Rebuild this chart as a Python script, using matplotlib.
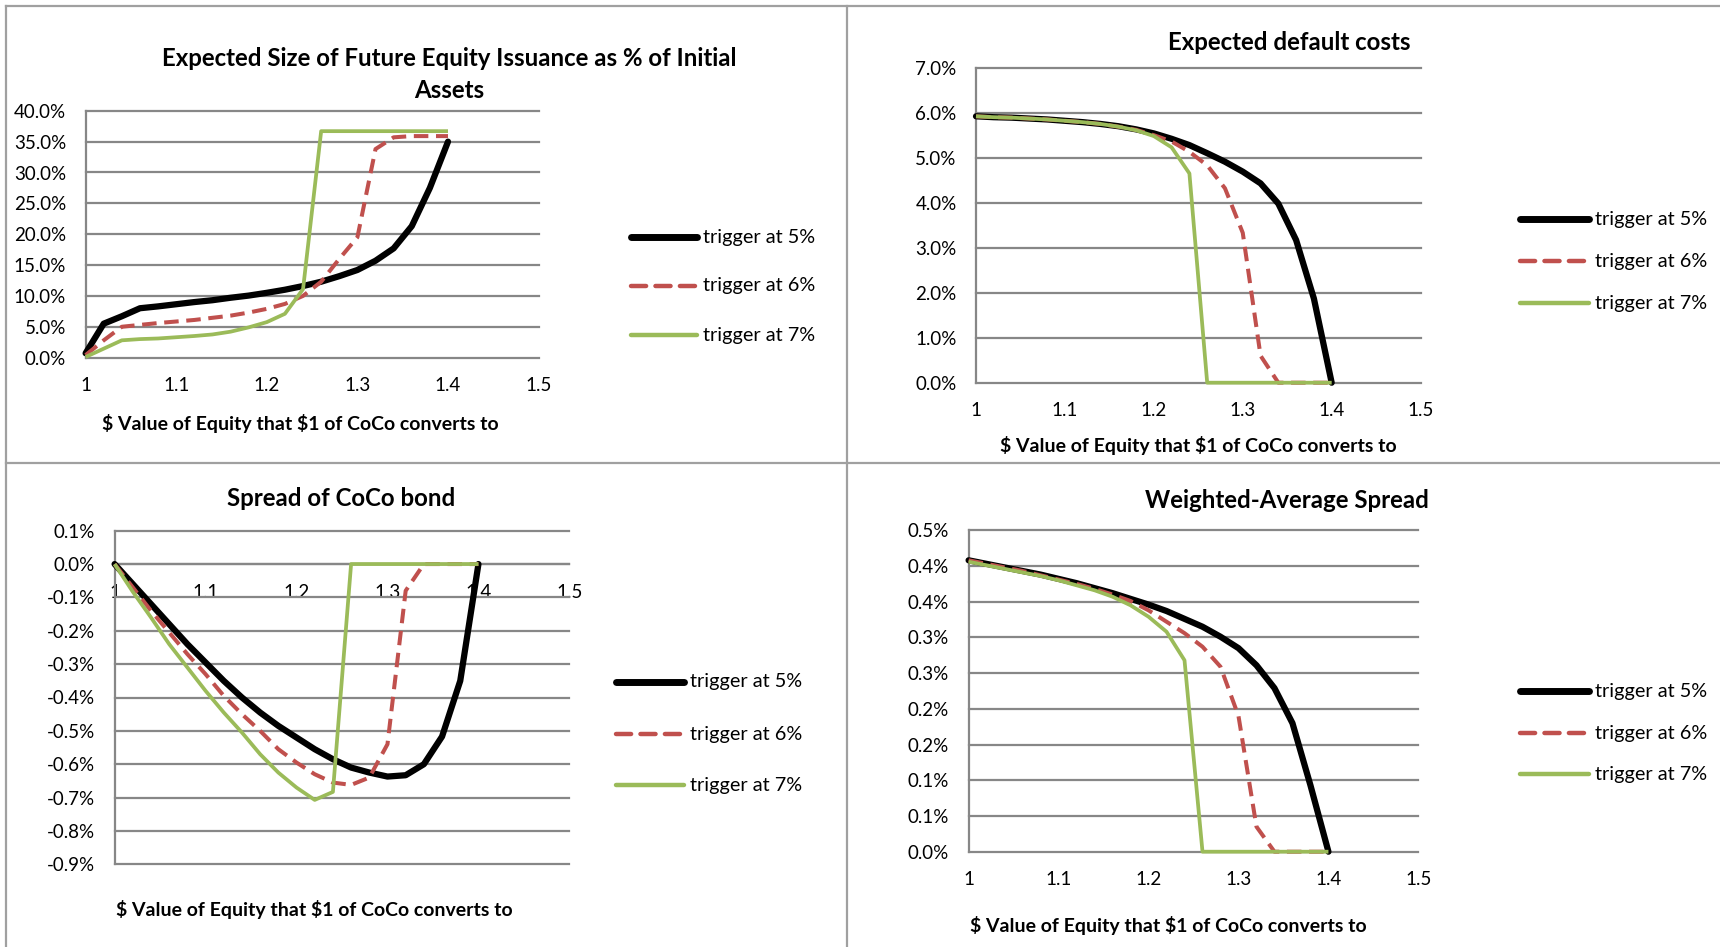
import math
import matplotlib
matplotlib.use("Agg")
import matplotlib.pyplot as plt
from matplotlib.lines import Line2D
from matplotlib.ticker import FuncFormatter, FixedLocator

plt.rcParams['font.family'] = ['Lato', 'DejaVu Sans']

# ---------------- data ----------------
x_vals = [1.00, 1.02, 1.04, 1.06, 1.08, 1.10, 1.12, 1.14, 1.16, 1.18, 1.20,
          1.22, 1.24, 1.26, 1.28, 1.30, 1.32, 1.34, 1.36, 1.38, 1.40]
series_labels = ["trigger at 5%", "trigger at 6%", "trigger at 7%"]
x_ticks = [1.0, 1.1, 1.2, 1.3, 1.4, 1.5]
x_tick_labels = ["1", "1.1", "1.2", "1.3", "1.4", "1.5"]
x_label = r"\$ Value of Equity that \$1 of CoCo converts to"

# Expected size of future equity issuance (% of initial assets)
equity_5 = [0.7, 5.5, 6.7, 8.0, 8.3, 8.65, 9.0, 9.3, 9.7, 10.05, 10.5,
            11.0, 11.6, 12.3, 13.2, 14.2, 15.7, 17.7, 21.3, 27.5, 35.0]
equity_6 = [0.4, 2.8, 5.0, 5.3, 5.6, 5.85, 6.1, 6.45, 6.8, 7.3, 7.9,
            8.7, 10.0, 12.3, 16.0, 19.5, 33.8, 35.7, 35.9, 35.9, 35.9]
equity_7 = [0.1, 1.45, 2.8, 3.0, 3.1, 3.3, 3.5, 3.75, 4.2, 4.9, 5.75,
            7.1, 11.1, 36.7, 36.7, 36.7, 36.7, 36.7, 36.7, 36.7, 36.7]

# Expected default costs (%)
default_5 = [5.92, 5.90, 5.89, 5.87, 5.85, 5.82, 5.79, 5.75, 5.70, 5.63, 5.54,
             5.42, 5.28, 5.10, 4.91, 4.69, 4.43, 3.98, 3.17, 1.87, 0.0]
default_6 = [5.92, 5.90, 5.89, 5.87, 5.85, 5.82, 5.79, 5.75, 5.69, 5.62, 5.50,
             5.36, 5.13, 4.83, 4.32, 3.33, 0.6, 0.0, 0.0, 0.0, 0.0]
default_7 = [5.92, 5.90, 5.89, 5.87, 5.85, 5.82, 5.79, 5.75, 5.69, 5.61, 5.48,
             5.23, 4.65, 0.0, 0.0, 0.0, 0.0, 0.0, 0.0, 0.0, 0.0]

# Spread of CoCo bond (%)
spread_5 = [0.0, -0.06, -0.12, -0.18, -0.24, -0.295, -0.35, -0.40, -0.445, -0.485, -0.52,
            -0.555, -0.585, -0.61, -0.625, -0.637, -0.633, -0.60, -0.517, -0.35, 0.0]
spread_6 = [0.0, -0.07, -0.14, -0.205, -0.27, -0.33, -0.395, -0.45, -0.50, -0.555, -0.595,
            -0.63, -0.655, -0.662, -0.64, -0.54, -0.08, 0.0, 0.0, 0.0, 0.0]
spread_7 = [0.0, -0.083, -0.16, -0.24, -0.31, -0.38, -0.445, -0.505, -0.57, -0.625, -0.67,
            -0.707, -0.683, 0.0, 0.0, 0.0, 0.0, 0.0, 0.0, 0.0, 0.0]

# Weighted-average spread (%)
wavg_5 = [0.408, 0.403, 0.398, 0.393, 0.388, 0.382, 0.376, 0.369, 0.362, 0.354, 0.346,
          0.337, 0.326, 0.315, 0.301, 0.285, 0.261, 0.229, 0.180, 0.093, 0.0]
wavg_6 = [0.408, 0.403, 0.398, 0.393, 0.387, 0.381, 0.375, 0.368, 0.360, 0.351, 0.338,
          0.322, 0.306, 0.287, 0.259, 0.19, 0.035, 0.0, 0.0, 0.0, 0.0]
wavg_7 = [0.406, 0.401, 0.396, 0.391, 0.386, 0.380, 0.373, 0.366, 0.357, 0.345, 0.329,
          0.308, 0.268, 0.0, 0.0, 0.0, 0.0, 0.0, 0.0, 0.0, 0.0]

# ---------------- style ----------------
W, H = 1720, 947
GRID = '#878787'
BORDER = '#a0a0a0'
styles = [
    dict(color='#000000', lw=4.5, ls='-', solid_capstyle='round'),
    dict(color='#C0504D', lw=2.9, ls=(0, (3.6, 1.9))),
    dict(color='#9BBB59', lw=2.7, ls='-', solid_capstyle='butt'),
]
legend_styles = [
    dict(color='#000000', lw=5.0, ls='-', solid_capstyle='round'),
    dict(color='#C0504D', lw=3.2, ls=(0, (3.4, 2.1)), dash_capstyle='round'),
    dict(color='#9BBB59', lw=3.2, ls='-', solid_capstyle='round'),
]
TICK_FS = 13.5
LEG_FS = 14.3
TITLE_FS = 17.3
XLAB_FS = 14

fig = plt.figure(figsize=(W / 100, H / 100), dpi=100)
fig.patch.set_facecolor('white')


def fx(px):
    return px / W


def fy(py):
    return 1 - py / H


# panel borders
for (x0, y0, x1, y1) in [(6, 6, W, 6), (6, 6, 6, H), (847, 6, 847, H), (6, 463, W, 463)]:
    fig.add_artist(Line2D([fx(x0), fx(x1)], [fy(y0), fy(y1)], color=BORDER, lw=1.6,
                          transform=fig.transFigure))


def half_up(v):
    return math.floor(round(v, 6) * 10 + 0.5 + 1e-9) / 10


def make_axes(l, t, r, b, ylim, yticks, fmt, ys, zero_axis=False):
    ax = fig.add_axes([fx(l), fy(b), (r - l) / W, (b - t) / H])
    ax.set_xlim(1.0, 1.5)
    ax.set_ylim(*ylim)
    ax.yaxis.set_major_locator(FixedLocator(yticks))
    ax.yaxis.set_major_formatter(FuncFormatter(fmt))
    ax.xaxis.set_major_locator(FixedLocator(x_ticks))
    ax.set_xticklabels(x_tick_labels)
    ax.grid(axis='y', color=GRID, lw=1.6)
    ax.set_axisbelow(True)
    for gl in ax.get_ygridlines():
        gl.set_clip_on(False)
    for s in ['top', 'right']:
        ax.spines[s].set_visible(False)
    ax.spines['left'].set_color(GRID)
    ax.spines['left'].set_linewidth(1.6)
    if zero_axis:
        ax.spines['bottom'].set_position(('data', 0))
        ax.spines['bottom'].set_color(GRID)
        ax.spines['bottom'].set_linewidth(1.6)
    else:
        ax.spines['bottom'].set_visible(False)
    ax.tick_params(axis='both', length=0, labelsize=TICK_FS)
    ax.tick_params(axis='y', pad=14)
    ax.tick_params(axis='x', pad=14)
    for yv, st in zip(ys, styles):
        ax.plot(x_vals, yv, clip_on=False, zorder=3, **st)
    return ax


def legend(x0, x1, ys_px):
    for st, lab, yp in zip(legend_styles, series_labels, ys_px):
        fig.add_artist(Line2D([fx(x0), fx(x1)], [fy(yp), fy(yp)],
                              transform=fig.transFigure, **st))
        fig.text(fx(x1 + 6), fy(yp), lab, fontsize=LEG_FS, va='center', ha='left')


def title(xc, yc, txt):
    fig.text(fx(xc), fy(yc), txt, fontsize=TITLE_FS, fontweight='bold', ha='center', va='center')


def xlabel(xc, yc):
    fig.text(fx(xc), fy(yc), x_label, fontsize=XLAB_FS, fontweight='bold', ha='center', va='center')


# Panel 1
make_axes(85.6, 110.8, 538.6, 357.6, (0, 40), [0, 5, 10, 15, 20, 25, 30, 35, 40],
          lambda v, p: f"{v:.1f}%", [equity_5, equity_6, equity_7])
title(449, 59, "Expected Size of Future Equity Issuance as % of Initial")
title(449, 91, "Assets")
xlabel(300, 423)
legend(631, 697, [237, 286, 335])

# Panel 2
make_axes(976, 67.7, 1420.6, 382.7, (0, 7), [0, 1, 2, 3, 4, 5, 6, 7],
          lambda v, p: f"{v:.1f}%", [default_5, default_6, default_7])
title(1289, 43, "Expected default costs")
xlabel(1198, 445)
legend(1520, 1589, [219, 261, 303])

# Panel 3
make_axes(114.6, 530.7, 569.4, 864.3, (-0.9, 0.1),
          [-0.9, -0.8, -0.7, -0.6, -0.5, -0.4, -0.3, -0.2, -0.1, 0.0, 0.1],
          lambda v, p: f"{v:.1f}%".replace("-0.0%", "0.0%"), [spread_5, spread_6, spread_7],
          zero_axis=True)
title(341, 499, "Spread of CoCo bond")
xlabel(314, 909)
legend(616, 684, [682, 734, 785])

# Panel 4
make_axes(968.6, 530.3, 1418.4, 851.7, (0, 0.45),
          [0, 0.05, 0.10, 0.15, 0.20, 0.25, 0.30, 0.35, 0.40, 0.45],
          lambda v, p: f"{half_up(v):.1f}%", [wavg_5, wavg_6, wavg_7])
title(1287, 501, "Weighted-Average Spread")
xlabel(1168, 925)
legend(1520, 1589, [691, 733, 774])

fig.savefig("out.png", dpi=100, facecolor='white')
